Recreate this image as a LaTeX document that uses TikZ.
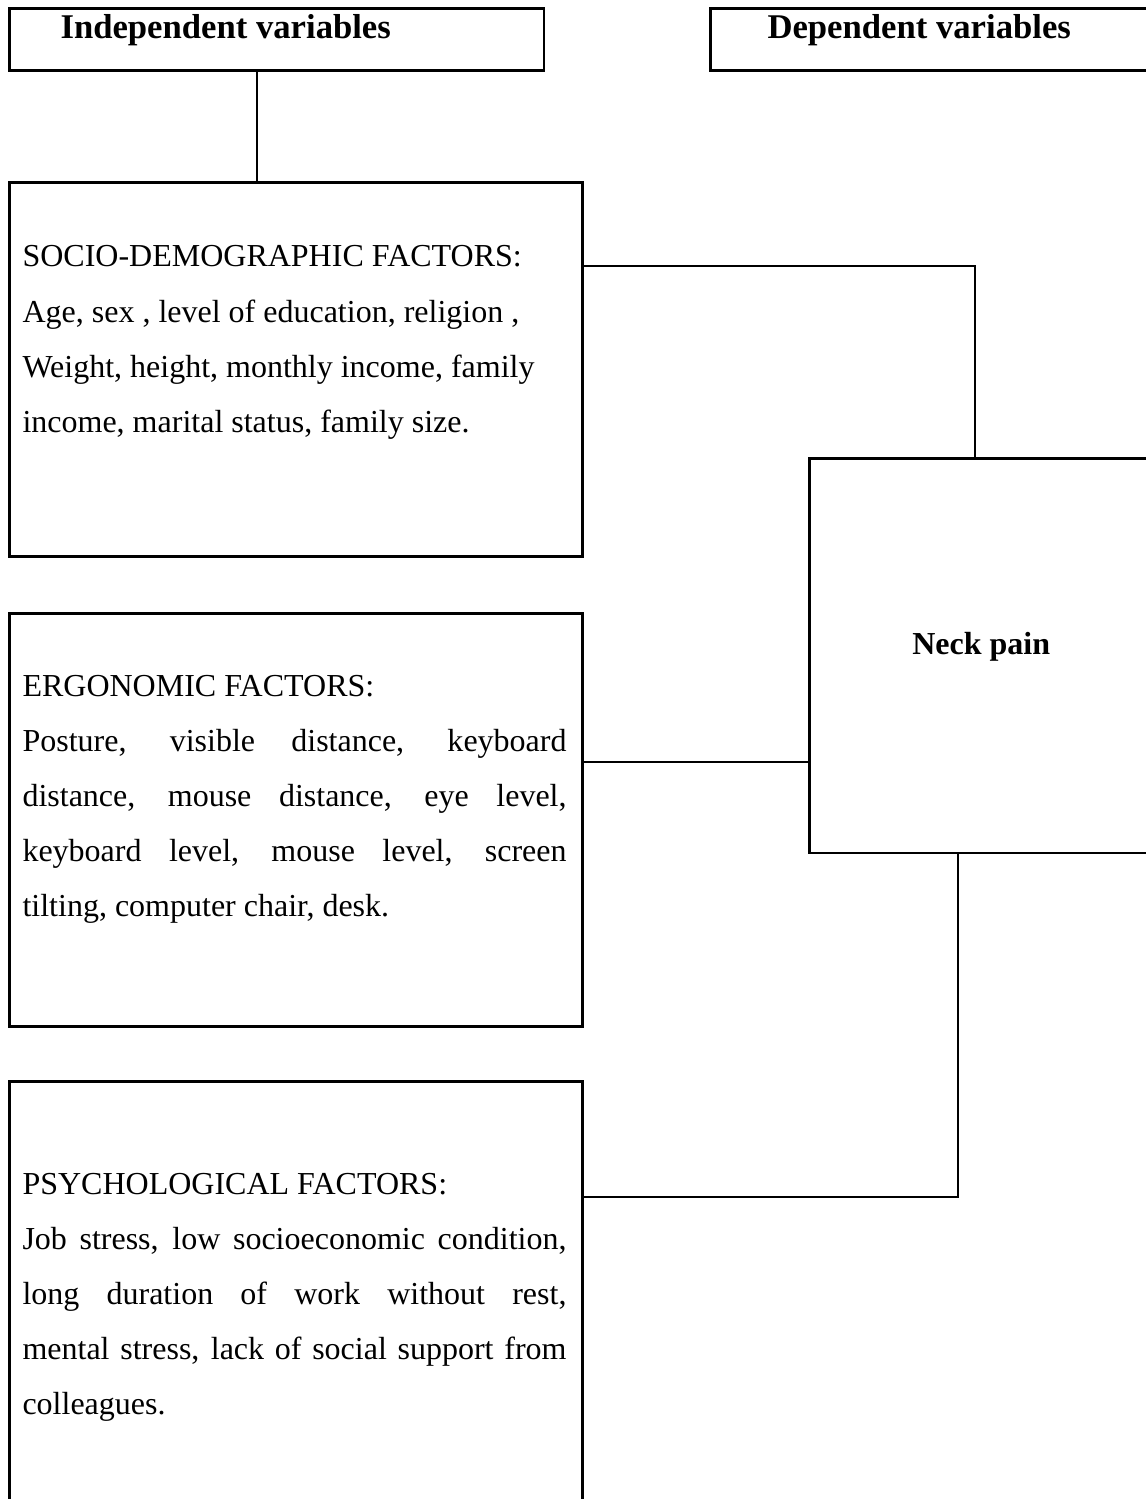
\documentclass[tikz,border=0pt]{standalone}
\usepackage{fontspec}
\setmainfont{Liberation Serif}
\usepackage{xcolor}
\usetikzlibrary{positioning}
\hyphenpenalty=10000
\tikzset{
  varbox/.style={
    rectangle, draw=black, line width=0.95pt, anchor=north west,
    minimum height=23.25pt, inner sep=0pt
  },
  factbox/.style={
    rectangle, draw=black, line width=0.95pt, anchor=north west,
    minimum width=214.9pt, inner sep=0pt
  },
  outcome/.style={
    rectangle, draw=black, line width=0.95pt, anchor=north west,
    minimum width=129pt, minimum height=148.1pt, inner sep=0pt,
    font=\fontsize{12pt}{14pt}\bfseries\selectfont,
    text height=8pt, text depth=9pt
  },
  headtext/.style={
    anchor=base west, inner sep=0pt,
    font=\fontsize{13pt}{15pt}\bfseries\selectfont
  },
  facttext/.style={
    anchor=base west, inner sep=0pt, text width=204pt,
    font=\fontsize{12pt}{20.7pt}\selectfont
  },
  link/.style={line width=0.95pt, draw=black}
}

\begin{document}
\begin{tikzpicture}[x=0.375pt, y=-0.375pt]
  \useasboundingbox (0,0) rectangle (1146,1499);
  \clip (0,0) rectangle (1146,1499);

  % variable headers
  \node[varbox, minimum width=200.6pt] (indep) at (8,7) {};
  \node[headtext] (indeptxt) at (60,39) {Independent variables};
  \node[varbox, minimum width=168.75pt] (dep) at (709,7) {};
  \node[headtext] (deptxt) at (767,39) {Dependent variables};

  % factor boxes
  \node[factbox, minimum height=140.25pt] (socio) at (8,181) {};
  \node[facttext, align=justify] (sociotxt) at (22,267)
    {SOCIO-DEMOGRAPHIC FACTORS:\newline
     Age, sex , level of education, religion ,\newline
     Weight, height, monthly income, family\newline
     income, marital status, family size.};

  \node[factbox, minimum height=154.9pt] (ergo) at (8,612) {};
  \node[facttext, align=justify] (ergotxt) at (22,696)
    {ERGONOMIC FACTORS:\newline
     Posture, visible distance, keyboard\linebreak
     distance, mouse distance, eye level,\linebreak
     keyboard level, mouse level, screen\linebreak
     tilting, computer chair, desk.};

  \node[factbox, minimum height=165pt] (psych) at (8,1080) {};
  \node[facttext, align=justify] (psychtxt) at (22,1194)
    {PSYCHOLOGICAL FACTORS:\newline
     Job stress, low socioeconomic condition,\linebreak
     long duration of work without rest,\linebreak
     mental stress, lack of social support from\linebreak
     colleagues.};

  % outcome
  \node[outcome] (neck) at (808,457) {Neck pain};

  % connectors
  \coordinate (ijoin) at (257,0);
  \coordinate (sbend) at (975,266);
  \coordinate (ejoin) at (0,762);
  \coordinate (pbend) at (958,1197);
  \draw[link] (indep.south -| ijoin) -- (socio.north -| ijoin);
  \draw[link] (socio.east |- sbend) -| (neck.north -| sbend);
  \draw[link] (ergo.east |- ejoin) -- (neck.west |- ejoin);
  \draw[link] (psych.east |- pbend) -| (neck.south -| pbend);
\end{tikzpicture}
\end{document}
